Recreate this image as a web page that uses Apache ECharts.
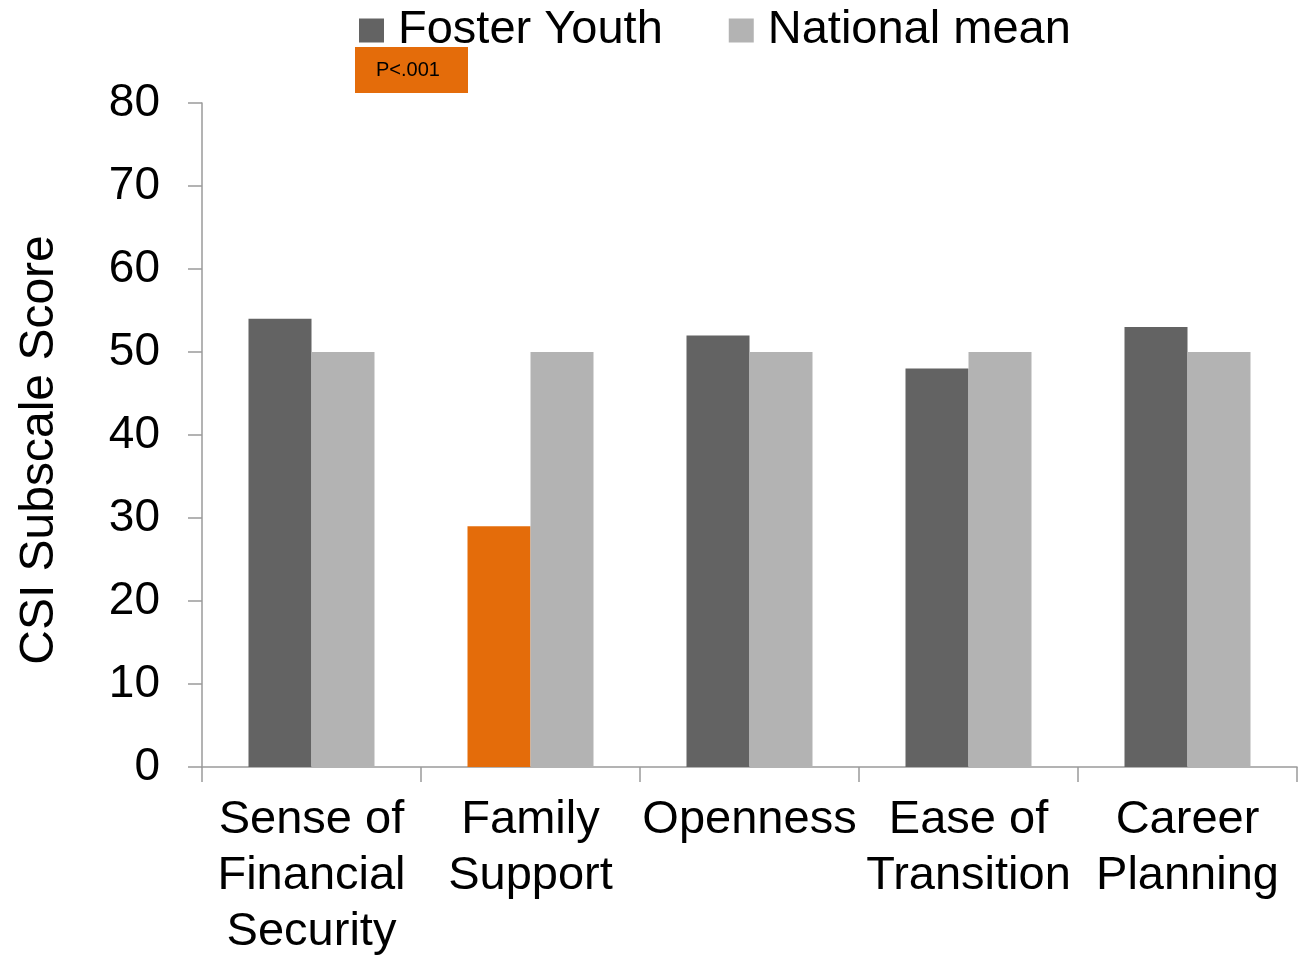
<!DOCTYPE html>
<html>
<head>
<meta charset="utf-8">
<script src="https://cdn.jsdelivr.net/npm/echarts@6/dist/echarts.min.js"></script>
<style>
  html, body { margin: 0; padding: 0; background: #fff; }
  #chart { width: 1305px; height: 956px; }
</style>
</head>
<body>
<div id="chart"></div>
<script>
// CSI subscale scores: foster youth vs. national mean
const categories = ['Sense of\nFinancial\nSecurity', 'Family\nSupport', 'Openness', 'Ease of\nTransition', 'Career\nPlanning'];
const fosterYouth = [54, 29, 52, 48, 53];
const nationalMean = [50, 50, 50, 50, 50];
const yTicks = { min: 0, max: 80, interval: 10 };
const significantIndex = 1;          // subscale flagged as significant
const significanceLabel = 'P<.001';

const FONT = '"Liberation Sans", Arial, sans-serif';
const DARK = '#636363';
const LIGHT = '#b3b3b3';
const ORANGE = '#e46c0a';
const AXIS = '#9a9a9a';

const chart = echarts.init(document.getElementById('chart'), null, { renderer: 'canvas' });

chart.setOption({
  backgroundColor: '#fff',
  animation: false,
  textStyle: { fontFamily: FONT, color: '#000' },
  legend: {
    left: 359,
    top: 7,
    padding: 0,
    itemWidth: 25,
    itemHeight: 24,
    itemGap: 66,
    icon: 'rect',
    textStyle: { fontSize: 47, color: '#000', fontFamily: FONT, padding: [0, 0, 0, 9] },
    data: ['Foster Youth', 'National mean']
  },
  grid: { left: 202, right: 8, top: 103, bottom: 189, containLabel: false, outerBoundsMode: 'none' },
  xAxis: {
    type: 'category',
    data: categories,
    axisLine: { lineStyle: { color: AXIS, width: 1.5 } },
    axisTick: { show: true, length: 15, lineStyle: { color: AXIS, width: 1.5 } },
    axisLabel: { fontSize: 47, lineHeight: 56, color: '#000', fontFamily: FONT, margin: 25, interval: 0 }
  },
  yAxis: {
    type: 'value',
    min: yTicks.min,
    max: yTicks.max,
    interval: yTicks.interval,
    splitLine: { show: false },
    axisLine: { show: true, lineStyle: { color: AXIS, width: 1.5 } },
    axisTick: { show: true, length: 14, lineStyle: { color: AXIS, width: 1.5 } },
    axisLabel: { fontSize: 46, color: '#000', fontFamily: FONT, margin: 42 }
  },
  series: [
    {
      name: 'Foster Youth',
      type: 'bar',
      barWidth: 63,
      barGap: '0%',
      itemStyle: { color: DARK },
      data: fosterYouth.map((v, i) => i === significantIndex ? { value: v, itemStyle: { color: ORANGE } } : v)
    },
    {
      name: 'National mean',
      type: 'bar',
      barWidth: 63,
      barGap: '0%',
      itemStyle: { color: LIGHT },
      data: nationalMean
    }
  ],
  graphic: [
    {
      type: 'text',
      rotation: Math.PI / 2,
      x: 40,
      y: 450,
      style: {
        text: 'CSI Subscale Score',
        font: '48px ' + FONT,
        fill: '#000',
        textAlign: 'center',
        textVerticalAlign: 'middle'
      }
    },
    {
      type: 'group',
      x: 355,
      y: 47,
      children: [
        { type: 'rect', shape: { x: 0, y: 0, width: 113, height: 46 }, style: { fill: ORANGE } },
        {
          type: 'text',
          x: 21,
          y: 23,
          style: { text: significanceLabel, font: '20px ' + FONT, fill: '#000', textVerticalAlign: 'middle' }
        }
      ]
    }
  ]
});
</script>
</body>
</html>
